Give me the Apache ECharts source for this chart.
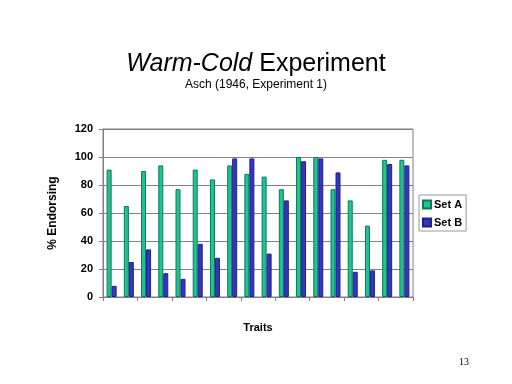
<!DOCTYPE html>
<html><head><meta charset="utf-8">
<script src="https://cdn.jsdelivr.net/npm/echarts@6/dist/echarts.min.js"></script>
<style>html,body{margin:0;padding:0;background:#fff}#c{width:512px;height:384px}</style>
</head><body><div id="c"></div>
<script>
var categories = ['1','2','3','4','5','6','7','8','9','10','11','12','13','14','15','16','17','18'];
var setA = [91,65,90,94,77,91,84,94,88,86,77,100,100,77,69,51,98,98];
var setB = [8,25,34,17,13,38,28,99,99,31,69,97,99,89,18,19,95,94];
var yTicks = [0,20,40,60,80,100,120];

var chart = echarts.init(document.getElementById('c'), null, {renderer:'canvas'});
chart.setOption({
  animation:false,
  backgroundColor:'#fff',
  title:[{
    text:'{i|Warm-Cold} Experiment',
    left:'center', top:47,
    textStyle:{fontFamily:'Liberation Sans, Arial', fontSize:25, fontWeight:'normal', color:'#000',
      rich:{i:{fontFamily:'Liberation Sans, Arial', fontSize:25, fontStyle:'italic', color:'#000'}}}
  },{
    text:'Asch (1946, Experiment 1)',
    left:'center', top:74,
    textStyle:{fontFamily:'Liberation Sans, Arial', fontSize:12, fontWeight:'normal', color:'#000'}
  },{
    text:'13', left:454, top:352,
    textStyle:{fontFamily:'Liberation Serif, Times New Roman', fontSize:10, fontWeight:'normal', color:'#000'}
  }],
  legend:{
    orient:'vertical', left:419, top:195,
    data:['Set A','Set B'],
    icon:'rect', itemWidth:8, itemHeight:8, itemGap:7,
    padding:[4,4,3,3],
    borderColor:'#999', borderWidth:1,
    textStyle:{fontFamily:'Liberation Sans, Arial', fontSize:11, fontWeight:'bold', color:'#000', padding:[0,0,0,-2]}
  },
  grid:{left:103, right:99, top:129, bottom:87, show:true, borderColor:'#808080', borderWidth:1},
  xAxis:{
    type:'category', data:categories,
    name:'Traits', nameLocation:'middle', nameGap:25,
    nameTextStyle:{fontFamily:'Liberation Sans, Arial', fontSize:11, fontWeight:'bold', color:'#000'},
    axisLine:{lineStyle:{color:'#808080'}},
    axisTick:{show:true, length:4, lineStyle:{color:'#808080'}},
    axisLabel:{show:false}
  },
  yAxis:{
    type:'value', min:0, max:120, interval:20,
    name:'% Endorsing', nameLocation:'middle', nameGap:44, nameRotate:90,
    nameTextStyle:{fontFamily:'Liberation Sans, Arial', fontSize:12, fontWeight:'bold', color:'#000'},
    axisLine:{show:true, lineStyle:{color:'#808080'}},
    axisTick:{show:true, length:4, lineStyle:{color:'#808080'}},
    axisLabel:{fontFamily:'Liberation Sans, Arial', fontSize:11, fontWeight:'bold', color:'#000', margin:10,
      formatter:function(v){return yTicks.indexOf(v)>=0?String(v):'';}},
    splitLine:{lineStyle:{color:'#808080'}}
  },
  series:[{
    name:'Set A', type:'bar', data:setA, barWidth:5, barGap:'0%',
    itemStyle:{color:'#1FC492', borderColor:'#0B7A58', borderWidth:1}
  },{
    name:'Set B', type:'bar', data:setB, barWidth:5,
    itemStyle:{color:'#3535C0', borderColor:'#20208A', borderWidth:1}
  }]
});
</script></body></html>
